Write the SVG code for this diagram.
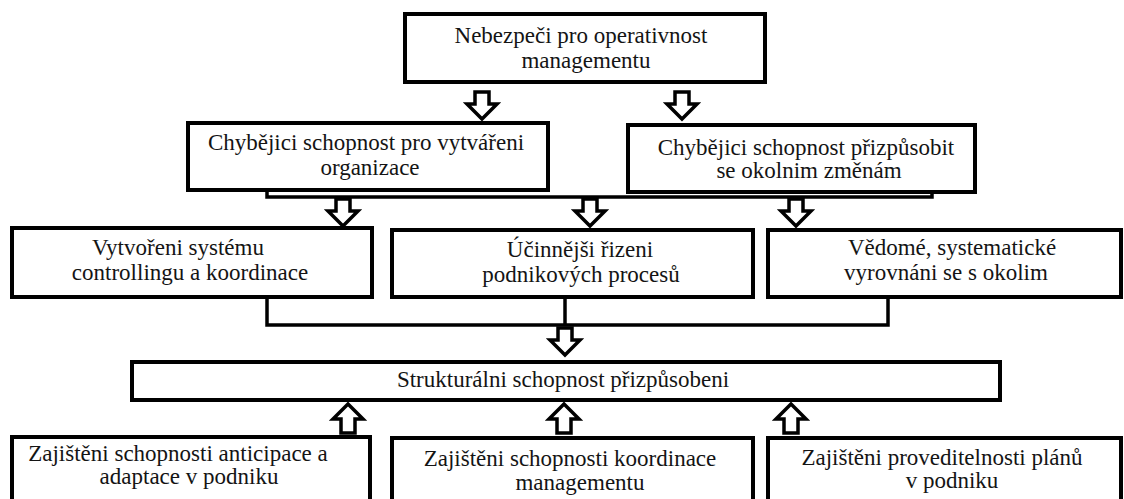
<svg xmlns="http://www.w3.org/2000/svg" width="1124" height="499" viewBox="0 0 1124 499">
  <style>
    .box { fill: #ffffff; stroke: #000000; stroke-width: 4; }
    .wire { fill: none; stroke: #000000; stroke-width: 3.5; stroke-linejoin: miter; }
    .arrow { fill: #ffffff; stroke: #000000; stroke-width: 3.5; stroke-linejoin: miter; }
    .label text { font-family: "Liberation Serif", "DejaVu Serif", serif; font-size: 23px; fill: #141414; text-anchor: middle; }
  </style>
  <defs>
    <!-- hollow block arrow pointing down, tip at (0,27) -->
    <path id="down" class="arrow" d="M -7 0 L 7 0 L 7 12 L 15 12 L 0 27 L -15 12 L -7 12 Z"/>
    <!-- hollow block arrow pointing up, tip at (0,0) -->
    <path id="up" class="arrow" d="M -7 29 L 7 29 L 7 15 L 15 15 L 0 0 L -15 15 L -7 15 Z"/>
  </defs>

  <rect width="1124" height="499" fill="#ffffff"/>

  <!-- connectors -->
  <g id="connectors">
    <polyline class="wire" points="267,190 267,197 932,197 932,192"/>
    <polyline class="wire" points="267,297 267,325 888,325 888,297"/>
    <line class="wire" x1="565" y1="297" x2="565" y2="325"/>
    <use href="#down" x="482" y="92"/>
    <use href="#down" x="682" y="92"/>
    <use href="#down" x="343" y="199"/>
    <use href="#down" x="590" y="199"/>
    <use href="#down" x="796" y="199"/>
    <use href="#down" x="565" y="328"/>
    <use href="#up" x="348" y="404"/>
    <use href="#up" x="564" y="404"/>
    <use href="#up" x="791" y="404"/>
  </g>

  <g class="label">
  <g id="nebezpeci">
    <rect class="box" x="405" y="14" width="360" height="68"/>
    <text x="581" y="43">Nebezpeči pro operativnost</text>
    <text x="586" y="68">managementu</text>
  </g>

  <g id="chybejici-organizace">
    <rect class="box" x="188" y="123" width="360" height="67"/>
    <text x="366" y="150">Chybějici schopnost pro vytvářeni</text>
    <text x="370" y="175">organizace</text>
  </g>

  <g id="chybejici-zmeny">
    <rect class="box" x="628" y="125" width="347" height="67"/>
    <text x="806" y="155">Chybějici schopnost přizpůsobit</text>
    <text x="809" y="178">se okolnim změnám</text>
  </g>

  <g id="controlling">
    <rect class="box" x="12" y="228" width="360" height="69"/>
    <text x="178" y="255">Vytvořeni systému</text>
    <text x="190" y="280">controllingu a koordinace</text>
  </g>

  <g id="rizeni">
    <rect class="box" x="392" y="230" width="361" height="67"/>
    <text x="580" y="257">Účinnějši řizeni</text>
    <text x="581" y="282">podnikových procesů</text>
  </g>

  <g id="vyrovnani">
    <rect class="box" x="768" y="230" width="353" height="67"/>
    <text x="952" y="255">Vědomé, systematické</text>
    <text x="946" y="280">vyrovnáni se s okolim</text>
  </g>

  <g id="strukturalni">
    <rect class="box" x="132" y="362" width="868" height="38"/>
    <text x="563" y="387">Strukturálni schopnost přizpůsobeni</text>
  </g>

  <g id="anticipace">
    <rect class="box" x="12" y="437" width="358" height="80"/>
    <text x="178" y="461">Zajištěni schopnosti anticipace a</text>
    <text x="189" y="484">adaptace v podniku</text>
  </g>

  <g id="koordinace">
    <rect class="box" x="392" y="438" width="361" height="80"/>
    <text x="570" y="466">Zajištěni schopnosti koordinace</text>
    <text x="580" y="490">managementu</text>
  </g>

  <g id="proveditelnost">
    <rect class="box" x="768" y="438" width="353" height="80"/>
    <text x="942" y="465">Zajištěni proveditelnosti plánů</text>
    <text x="952" y="488">v podniku</text>
  </g>
  </g>
</svg>
